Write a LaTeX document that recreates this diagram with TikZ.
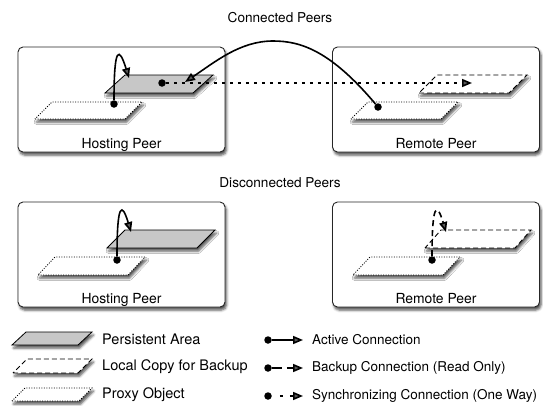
\documentclass[tikz,border=0pt]{standalone}
\usepackage{fontspec}
\setmainfont{TeX Gyre Heros}
\usetikzlibrary{arrows.meta,shadows.blur,positioning}

\begin{document}
\begin{tikzpicture}[x=1pt, y=-1pt,
			every node/.style={font=\fontsize{13.6}{16}\selectfont},
			shade/.style={blur shadow={shadow xshift=1.5pt, shadow yshift=-3pt, shadow blur radius=2.5pt, shadow opacity=70}},
			peer/.style={draw=black!85, line width=0.9pt, rounded corners=5pt, fill=white, minimum width=207pt, minimum height=105pt, shade},
			peerlabel/.style={anchor=base, inner sep=0pt, font=\fontsize{13.9}{16}\selectfont},
			persistent/.style={draw, line width=0.8pt, fill=black!22, shade},
			localcopy/.style={draw, line width=0.9pt, dash pattern=on 5pt off 3pt, fill=white, shade},
			proxyobj/.style={draw, line width=0.8pt, dash pattern=on 1pt off 1.5pt, fill=white, shade},
			dot/.style={circle, fill, inner sep=0pt, minimum size=7.5pt},
			active/.style={line width=1.6pt, -{Triangle[length=10pt, width=8pt]}},
			readonly/.style={active, dash pattern=on 6pt off 4pt},
			sync/.style={active, dash pattern=on 3.5pt off 4.5pt},
			legreadonly/.style={active, dash pattern=on 10pt off 5pt on 20pt off 0pt},
			legsync/.style={active, dash pattern=on 0pt off 8pt on 3.5pt off 6.5pt on 20pt off 0pt},
			legactive/.style={active},
			legtext/.style={anchor=west, inner sep=0pt, font=\fontsize{14.5}{17}\selectfont},
			conntext/.style={legtext, font=\fontsize{13.5}{16}\selectfont}]
			
			\useasboundingbox (0,0) rectangle (543,405);
			
			\node at (280,18) (conn) {Connected Peers};
			\node at (280,183) (disconn) {Disconnected Peers};
			
			\node[peer] (hostA) at (121.5,99.5) {};
			\node[peer] (remoteA) at (436,99.5) {};
			\node[peer] (hostB) at (121.5,254.5) {};
			\node[peer] (remoteB) at (436,254.5) {};
			
			\node[peerlabel] (hostAlbl) at ([yshift=4pt]hostA.south) {Hosting Peer};
			\node[peerlabel] (remoteAlbl) at ([yshift=4pt]remoteA.south) {Remote Peer};
			\node[peerlabel] (hostBlbl) at ([yshift=4pt]hostB.south) {Hosting Peer};
			\node[peerlabel] (remoteBlbl) at ([yshift=4pt]remoteB.south) {Remote Peer};
			
			% areas: kind / bottom-left corner / width / skew / height
			\foreach \kind/\px/\py/\w/\sk/\h in {
				persistent/105/93/88/20/18, proxyobj/35/119/90/17/17,
				localcopy/419/93/90/18/18, proxyobj/351/119/90/17/17,
				persistent/107/248/90/18/18, proxyobj/38/275/90/17/18,
				localcopy/425/248/90/16/18, proxyobj/353/275/90/17/18,
				persistent/12/345/66/14/13, localcopy/13/373/65/14/14,
				proxyobj/12/401/67/13/13}
			\draw[\kind] (\px,\py) -- ++(\w,0) -- ++(\sk,-\h) -- ++(-\w,0) -- cycle;
			
			\node[dot] (hostAproxy) at (114,104) {};
			\node[dot] (hostAarea) at (162,83) {};
			\node[dot] (remoteAproxy) at (378,107) {};
			\node[dot] (hostBproxy) at (117,260) {};
			\node[dot] (remoteBproxy) at (432,260) {};
			
			\coordinate (hostAin) at (129,78);
			\coordinate (hostAback) at (185,82);
			\coordinate (remoteAin) at (472,83);
			\coordinate (hostBin) at (131,232);
			\coordinate (remoteBin) at (446,232);
			
			\draw[active] (hostAproxy) .. controls (114,46) and (119,46) .. (hostAin);
			\draw[sync] (hostAarea) -- (remoteAin);
			\draw[active] (remoteAproxy) .. controls (330,50) and (300,41) .. (273,41)
			.. controls (240,41) and (215,62) .. (hostAback);
			\draw[active] (hostBproxy) .. controls (117,202) and (122,202) .. (hostBin);
			\draw[readonly] (remoteBproxy) .. controls (432,202) and (437,202) .. (remoteBin);
			
			% legend
			\node[legtext] (legArea) at (102,339) {Persistent Area};
			\node[legtext] (legCopy) at (102,367) {Local Copy for Backup};
			\node[legtext] (legProxy) at (102,395) {Proxy Object};
			
			\foreach \kind/\yy/\txt in {active/340/{Active Connection},
				readonly/368/{Backup Connection (Read Only)},
				sync/396/{Synchronizing Connection (One Way)}}{
				\node[dot] (leg\kind) at (268,\yy) {};
				\coordinate (leg\kind end) at (303,\yy);
				\draw[leg\kind] (leg\kind) -- (leg\kind end);
				\node[conntext, right=9pt of leg\kind end] (leg\kind txt) {\txt};
			}
		\end{tikzpicture}
\end{document}
